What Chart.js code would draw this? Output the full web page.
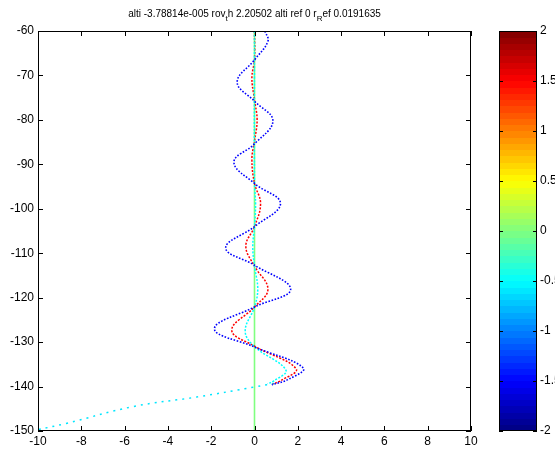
<!DOCTYPE html>
<html>
<head>
<meta charset="utf-8">
<script src="https://cdn.jsdelivr.net/npm/chart.js@4.4.0/dist/chart.umd.min.js"></script>
<style>
    html, body { margin: 0; padding: 0; background: #fff; }
    #figure { position: relative; width: 555px; height: 451px; }
    #figure canvas { position: absolute; left: 0; top: 0; }
</style>
</head>
<body>
<div id="figure">
    <canvas id="profile-chart" width="555" height="451"></canvas>
    <canvas id="colorbar-chart" width="555" height="451"></canvas>
</div>
<script>
// lateral offset (x) against altitude (y) for each run
const blueX = [0.48, 0.62, 0, -0.8, 0, 0.85, 0, -0.95, 0, 1.2, 0, -1.33, 0, 1.67, 0, -1.85, 0, 2.25, 1.6, 0.8];
const blueY = [-60, -62.3, -66.5, -71.5, -75.8, -80.2, -85.4, -89.5, -94.3, -98.8, -104, -108.8, -112.7, -118.1, -122.1, -127, -131.1, -135.8, -138.3, -139.6];

const redX = [0, 0, -0.12, 0, 0.12, 0, -0.12, 0, 0.28, 0, -0.4, 0, 0.62, 0, -1.05, 0, 1.92, 1.2, 0.85];
const redY = [-60, -66.5, -70.5, -75.5, -80, -84.8, -88.8, -94.3, -98.8, -104, -108.4, -112.9, -118.1, -122.1, -127.3, -130.9, -136, -138.7, -139.4];

const cyanX = [0, 0, 0.05, 0, -0.08, 0, 0.15, 0, -0.43, 0, 1.45, 0.9, 0.6];
const cyanY = [-60, -94, -99, -104, -108.5, -112.9, -118, -122.1, -127.5, -131, -136.3, -138.7, -139.4];

// common descent path below the oscillations
const tailX = [0.9, 0, -2.6, -5.6, -8.7, -10];
const tailY = [-139.3, -140.1, -142.3, -144.5, -148.3, -149.7];

// reference line
const refX = [0, 0];
const refY = [-60, -150];

const xTicks = { min: -10, max: 10, step: 2 };
const yTicks = { min: -150, max: -60, step: 10 };
const colorTicks = { min: -2, max: 2, step: 0.5 };

const FONT_FAMILY = '"Liberation Sans", Arial, Helvetica, sans-serif';

function toPoints(xs, ys) {
    return xs.map((x, i) => ({ x, y: ys[i] }));
}

// MATLAB style jet colour for t in [0, 1]
function jet(t) {
    const c = v => Math.round(255 * Math.min(1, Math.max(0, 1.5 - Math.abs(v))));
    return `rgb(${c(4 * t - 3)}, ${c(4 * t - 2)}, ${c(4 * t - 1)})`;
}

// box around the plot area with ticks pointing inwards
function drawBoxAndTicks(chart, tickLen) {
    const { ctx, chartArea } = chart;
    const { left, right, top, bottom } = chartArea;

    ctx.save();
    ctx.strokeStyle = '#000';
    ctx.lineWidth = 1;
    ctx.strokeRect(left + 0.5, top + 0.5, right - left - 1, bottom - top - 1);

    ctx.beginPath();
    Object.values(chart.scales).forEach(scale => {
        if (!scale.options.display) {
            return;
        }
        scale.ticks.forEach(tick => {
            const p = Math.round(scale.getPixelForValue(tick.value)) + 0.5;
            if (scale.isHorizontal()) {
                ctx.moveTo(p, bottom);
                ctx.lineTo(p, bottom - tickLen);
                ctx.moveTo(p, top);
                ctx.lineTo(p, top + tickLen);
            } else {
                ctx.moveTo(left, p);
                ctx.lineTo(left + tickLen, p);
                ctx.moveTo(right, p);
                ctx.lineTo(right - tickLen, p);
            }
        });
    });
    ctx.stroke();
    ctx.restore();
}

const boxPlugin = {
    id: 'boxTicks',
    afterDraw(chart, args, opts) {
        drawBoxAndTicks(chart, opts.tickLength || 5);
    }
};

// title with MATLAB-like subscripts
const titleParts = [
    { text: 'alti -3.78814e-005 rov' },
    { text: 't', sub: true },
    { text: 'h 2.20502 alti ref 0 r' },
    { text: 'R', sub: true },
    { text: 'ef 0.0191635' }
];

const titlePlugin = {
    id: 'subTitle',
    afterDraw(chart) {
        const { ctx, chartArea } = chart;
        const mainFont = `10px ${FONT_FAMILY}`;
        const subFont = `8px ${FONT_FAMILY}`;

        ctx.save();
        let width = 0;
        titleParts.forEach(part => {
            ctx.font = part.sub ? subFont : mainFont;
            width += ctx.measureText(part.text).width;
        });

        let x = (chartArea.left + chartArea.right) / 2 - width / 2;
        const baseline = 17;
        ctx.fillStyle = '#000';
        ctx.textBaseline = 'alphabetic';
        titleParts.forEach(part => {
            ctx.font = part.sub ? subFont : mainFont;
            ctx.fillText(part.text, x, part.sub ? baseline + 4 : baseline);
            x += ctx.measureText(part.text).width;
        });
        ctx.restore();
    }
};

function lineDataset(xs, ys, color, dash, width, order) {
    return {
        data: toPoints(xs, ys),
        showLine: true,
        borderColor: color,
        backgroundColor: color,
        borderWidth: width,
        borderDash: dash,
        pointRadius: 0,
        tension: 0.4,
        order
    };
}

function buildProfileChart() {
    const canvas = document.getElementById('profile-chart');
    const tickFont = { family: FONT_FAMILY, size: 12 };

    return new Chart(canvas, {
        type: 'scatter',
        data: {
            datasets: [
                lineDataset(refX, refY, 'rgb(128, 255, 128)', [], 1.6, 5),
                lineDataset(tailX, tailY, 'rgb(0, 230, 255)', [2, 5], 1.5, 4),
                lineDataset(redX, redY, 'rgb(255, 0, 0)', [2, 1.5], 1.5, 3),
                lineDataset(cyanX, cyanY, 'rgb(0, 255, 255)', [2, 1.5], 1.5, 2),
                lineDataset(blueX, blueY, 'rgb(0, 0, 255)', [1.6, 1.6], 1.6, 1)
            ]
        },
        options: {
            responsive: false,
            animation: false,
            events: [],
            layout: { padding: { top: 31, right: 84, left: 0, bottom: 0 } },
            plugins: {
                legend: { display: false },
                tooltip: { enabled: false },
                boxTicks: { tickLength: 5 }
            },
            scales: {
                x: {
                    type: 'linear',
                    min: xTicks.min,
                    max: xTicks.max,
                    ticks: { stepSize: xTicks.step, color: '#000', font: tickFont, padding: 3, maxRotation: 0 },
                    grid: { display: false, drawTicks: false },
                    border: { display: false },
                    afterFit: scale => { scale.height = 20; }
                },
                y: {
                    type: 'linear',
                    min: yTicks.min,
                    max: yTicks.max,
                    ticks: { stepSize: yTicks.step, color: '#000', font: tickFont, padding: 4 },
                    grid: { display: false, drawTicks: false },
                    border: { display: false },
                    afterFit: scale => { scale.width = 38; }
                }
            }
        },
        plugins: [boxPlugin, titlePlugin]
    });
}

// colour scale bar, 64 bands of the jet map
const colorbarPlugin = {
    id: 'jetBar',
    beforeDatasetsDraw(chart) {
        const { ctx, chartArea, scales } = chart;
        const levels = 64;
        const span = colorTicks.max - colorTicks.min;

        ctx.save();
        for (let k = 0; k < levels; k++) {
            const lo = colorTicks.min + span * k / levels;
            const hi = colorTicks.min + span * (k + 1) / levels;
            const yTop = scales.y.getPixelForValue(hi);
            const yBottom = scales.y.getPixelForValue(lo);
            ctx.fillStyle = jet((k + 0.5) / levels);
            ctx.fillRect(chartArea.left, Math.floor(yTop), chartArea.right - chartArea.left, Math.ceil(yBottom) - Math.floor(yTop));
        }
        ctx.restore();
    }
};

function buildColorbar() {
    const canvas = document.getElementById('colorbar-chart');

    return new Chart(canvas, {
        type: 'scatter',
        data: { datasets: [{ data: [] }] },
        options: {
            responsive: false,
            animation: false,
            events: [],
            layout: { padding: { top: 31, right: 0, left: 499, bottom: 20 } },
            plugins: {
                legend: { display: false },
                tooltip: { enabled: false },
                boxTicks: { tickLength: 4 }
            },
            scales: {
                x: { type: 'linear', display: false, min: 0, max: 1 },
                y: {
                    type: 'linear',
                    position: 'right',
                    min: colorTicks.min,
                    max: colorTicks.max,
                    ticks: {
                        stepSize: colorTicks.step,
                        color: '#000',
                        font: { family: FONT_FAMILY, size: 12 },
                        padding: 3,
                        callback: value => String(value)
                    },
                    grid: { display: false, drawTicks: false },
                    border: { display: false },
                    afterFit: scale => { scale.width = 18; }
                }
            }
        },
        plugins: [colorbarPlugin, boxPlugin]
    });
}

document.addEventListener('DOMContentLoaded', () => {
    buildProfileChart();
    buildColorbar();
});
</script>
</body>
</html>
